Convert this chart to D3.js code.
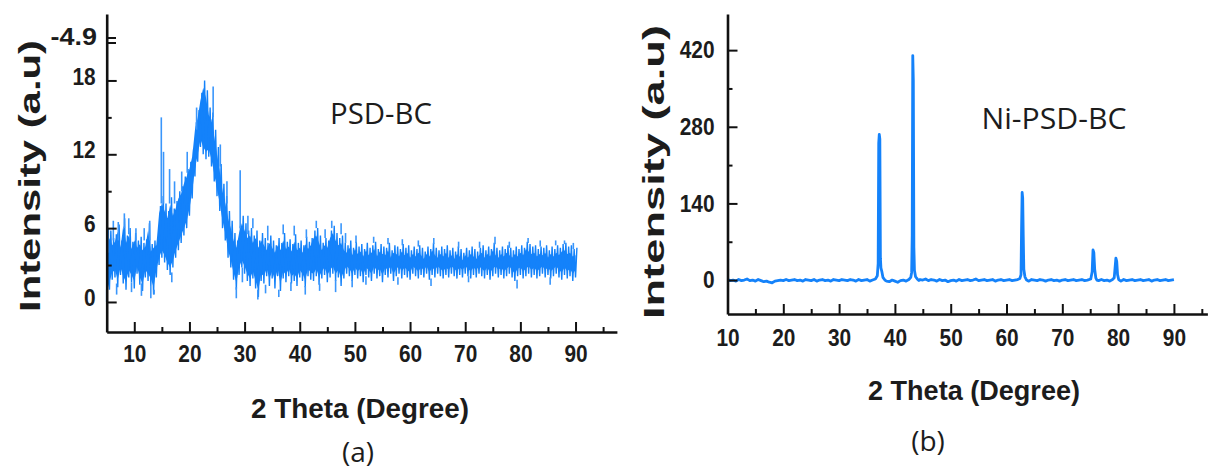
<!DOCTYPE html>
<html>
<head>
<meta charset="utf-8">
<script src="https://cdnjs.cloudflare.com/ajax/libs/d3/7.8.5/d3.min.js"></script>
<style>
body{margin:0;background:#fff;}
svg text{font-family:"Liberation Sans",Arial,sans-serif;fill:#1c1c1c;}
.lbl{font-family:"Open Sans","Noto Sans",sans-serif !important;}
</style>
</head>
<body>
<svg id="chart" width="1214" height="470"></svg>
<script>
// ---------- (a) PSD-BC : band of the noisy scan, sampled every 0.5 deg from 5 to 90 ----------
var startA = 5, stepA = 0.5;
var hiA = [
  4.5,5.8,5.2,5.5,6.3,5.0,6.8,5.4,6.0,4.9,
  5.6,5.0,5.3,4.8,5.1,6.4,4.7,5.0,5.2,7.8,
  8.6,8.0,7.4,8.5,7.6,8.2,9.0,9.4,10.2,10.8,
  11.4,12.4,14.6,15.6,17.0,18.0,17.2,15.8,15.4,14.0,
  12.6,11.2,9.6,8.6,7.4,6.6,5.6,5.0,6.2,7.0,
  6.4,5.8,6.0,5.4,5.8,5.0,5.6,5.2,4.8,5.4,
  5.0,4.6,5.2,4.8,5.6,4.9,5.1,4.7,5.5,4.8,
  5.0,4.6,5.3,4.9,5.2,5.8,6.0,5.4,4.8,5.2,
  5.0,5.8,6.2,5.6,5.2,5.4,4.8,4.6,5.0,4.4,
  4.9,4.5,4.7,4.3,4.8,4.4,4.6,4.9,4.3,4.7,
  4.5,4.4,4.8,4.2,4.6,4.5,4.3,4.7,4.4,4.6,
  4.2,4.5,4.3,4.6,4.4,4.1,4.5,4.3,4.8,4.4,
  4.2,4.5,4.3,4.6,4.2,4.4,4.1,4.5,4.3,4.0,
  4.4,4.2,4.5,4.3,4.1,4.4,4.6,4.2,4.5,4.3,
  4.8,4.4,4.2,4.5,4.3,4.6,4.4,4.2,4.5,4.3,
  4.6,4.4,4.9,4.7,4.5,4.6,4.3,4.5,4.4,4.6,
  4.2,4.5,4.3,4.6,4.4,4.7,4.8,4.5,4.6,4.3,
  4.4];
var loA = [
  0.2,1.0,1.8,2.0,1.2,2.2,1.5,1.0,2.0,1.6,
  1.1,2.3,1.4,0.9,2.0,1.7,1.3,0.6,2.0,3.0,
  3.6,3.2,2.6,2.2,2.8,3.6,4.2,4.8,5.4,6.0,
  7.0,8.4,10.2,11.4,12.6,12.0,11.6,11.8,11.0,9.8,
  8.6,7.4,6.0,5.0,3.6,2.8,1.8,1.0,2.2,2.8,
  2.3,1.7,1.3,1.9,1.1,0.4,1.7,1.5,2.1,1.3,
  1.9,1.1,2.1,0.9,1.9,1.6,2.1,1.5,1.7,1.3,
  2.0,1.7,1.2,2.1,1.8,1.7,2.1,1.4,1.9,2.2,
  1.6,2.0,2.3,1.7,2.0,1.3,1.9,2.3,2.1,1.7,
  2.2,1.9,2.1,1.6,2.2,2.0,1.7,2.3,1.9,2.1,
  1.6,2.2,2.0,2.3,1.7,2.1,2.3,1.9,2.2,2.0,
  1.8,2.3,2.1,1.9,2.2,2.0,2.3,1.8,2.2,2.0,
  2.3,2.1,1.9,2.2,2.0,2.3,2.1,1.9,2.2,2.0,
  2.3,2.1,1.9,2.2,2.0,2.3,2.1,1.9,2.2,1.8,
  2.1,2.3,2.0,2.2,1.9,2.1,2.3,2.0,1.7,2.1,
  2.2,1.9,2.1,2.3,2.0,2.2,1.9,2.1,2.3,2.0,
  2.2,1.9,2.1,2.3,2.0,1.8,2.2,1.9,2.1,1.7,
  2.0];
// single spikes [theta, from, to]
var spikesA = [
  [5.3,4,6.0],[6.2,5,6.6],[7.1,5,6.5],[8.2,6,7.2],[9.0,5.5,6.8],[10.3,5,6.0],[11.8,5,6.0],
  [12.8,5,6.6],[14.9,8,15.0],[15.3,8,12.2],[16.4,8,10.8],[17.3,8,9.8],[18.6,9,10.6],
  [19.6,10.5,12.2],[21.3,14,15.8],[24.3,15,17.5],[25.6,11,12.8],[26.8,8,9.8],[29.2,6,10.7],
  [30.6,5.5,7.0],[31.5,6,6.8],[34.2,5,6.2],[37.0,5.5,6.3],[39.0,5.4,6.2],[41.2,5.2,5.9],
  [43.0,6,6.6],[44.6,5.2,5.9],[45.8,6,6.6],[47.5,5.5,6.4],[48.3,4.8,5.6],[50.2,4.8,5.4],
  [53.4,4.8,5.3],[56.0,4.7,5.2],[58.6,4.6,5.1],[61.5,4.5,5.0],[64.3,4.7,5.2],[68.8,4.4,4.9],
  [72.6,4.4,4.9],[75.4,4.7,5.3],[78.0,4.4,4.9],[81.4,4.8,5.2],[83.6,4.5,5.0],[86.4,4.6,5.0],
  [88.0,4.7,5.0],[89.6,4.3,4.8],
  [5.0,1,0.0],[6.8,1.5,0.6],[9.5,1.6,0.8],[11.3,1.5,0.5],[13.0,1.3,0.3],[13.6,1,0.6],
  [16.8,2.4,1.6],[28.5,1.2,0.3],[29.6,2.8,1.6],[32.4,1,0.2],[33.8,1.4,0.7],[36.2,1.0,0.4],
  [38.4,1.6,0.9],[41.0,1.3,0.6],[43.6,1.5,0.9],[46.5,1.8,0.8],[49.5,1.8,1.2],[52.0,2.1,1.4],
  [57.8,2.0,1.4],[63.8,1.9,1.3],[70.6,2.1,1.6],[79.4,1.8,1.1],[85.4,2.0,1.4]];
var xTicksA = [10,20,30,40,50,60,70,80,90];
var xMinorA = [15,25,35,45,55,65,75,85,95];
var yTicksA = [0,6,12,18];
var yMinorA = [3,9,15];
var breakLabelA = "-4.9";

// ---------- (b) Ni-PSD-BC : [theta, intensity] ----------
var scanB = [
  [10,1],[10.5,-1],[11,0],[11.5,-2],[12,1],[12.5,-1],[13,0],[13.5,2],[14,-1],[14.5,0],
  [15,-2],[15.5,1],[16,-1],[16.5,-3],[17,-2],[17.5,-4],[18,-5],[18.5,-2],[19,-1],[19.5,0],
  [20,-1],[20.5,1],[21,-1],[21.5,0],[22,1],[22.5,-1],[23,0],[23.5,-2],[24,1],[24.5,0],
  [25,-1],[25.5,1],[26,-2],[26.5,0],[27,1],[27.5,-1],[28,0],[28.5,-2],[29,1],[29.5,0],
  [30,-1],[30.5,1],[31,0],[31.5,-1],[32,1],[32.5,0],[33,-2],[33.5,1],[34,-1],[34.5,0],
  [35,1],[35.5,-2],[36,0],[36.5,2],[36.85,8],[37.0,30],[37.1,250],[37.2,266],[37.3,258],
  [37.4,40],[37.5,22],[37.65,16],[37.85,5],[38.2,0],[38.5,-2],[39,-3],[39.5,0],[40,-2],
  [40.5,-4],[41,-1],[41.5,0],[42,-2],[42.5,1],[42.85,5],[43.0,14],[43.1,82],[43.2,410],
  [43.3,365],[43.4,60],[43.5,18],[43.7,6],[44.0,2],[44.3,-1],[44.5,1],[45,0],[45.5,2],
  [46,-1],[46.5,1],[47,0],[47.5,-2],[48,1],[48.5,-1],[49,0],[49.5,-3],[50,-1],[50.5,0],
  [51,-2],[51.5,1],[52,-1],[52.5,0],[53,1],[53.5,-1],[54,0],[54.5,2],[55,-1],[55.5,0],
  [56,1],[56.5,-1],[57,0],[57.5,1],[58,-2],[58.5,0],[59,1],[59.5,-1],[60,0],[60.5,1],
  [61,-1],[61.5,0],[62,1],[62.4,3],[62.6,10],[62.7,95],[62.8,160],[62.9,150],[63.0,80],
  [63.1,20],[63.3,6],[63.6,0],[64,-2],[64.5,1],[65,0],[65.5,-1],[66,1],[66.5,0],[67,-2],
  [67.5,0],[68,1],[68.5,-1],[69,0],[69.5,-2],[70,0],[70.5,1],[71,-1],[71.5,0],[72,1],
  [72.5,-1],[73,0],[73.5,1],[74,-1],[74.5,0],[75.1,2],[75.35,15],[75.5,55],[75.65,50],
  [75.8,20],[76.0,4],[76.2,0],[76.5,-1],[77,1],[77.5,-1],[78,0],[78.5,-2],[79,1],[79.3,4],
  [79.45,22],[79.6,40],[79.75,34],[79.9,10],[80.1,1],[80.5,-2],[81,1],[81.5,-1],[82,0],
  [82.5,1],[83,-1],[83.5,0],[84,1],[84.5,-1],[85,0],[85.5,1],[86,-2],[86.5,0],[87,1],
  [87.5,-1],[88,0],[88.5,1],[89,-1],[89.5,0],[90,1]];
var xTicksB = [10,20,30,40,50,60,70,80,90];
var xMinorB = [15,25,35,45,55,65,75,85,95];
var yTicksB = [0,140,280,420];
var yMinorB = [70,210,350];

var blue = "#1482fa";
var svg = d3.select("#chart");

// scales
var xA = d3.scaleLinear().domain([5,97.5]).range([106.7,616.9]);
var yA = d3.scaleLinear().domain([-2.44,23.4]).range([332,14]);
var xB = d3.scaleLinear().domain([10,96]).range([727.5,1207.4]);
var yB = d3.scaleLinear().domain([-62,486]).range([314,14]);

var digitW = 11.6; // tick labels are tall and narrow in the figure

function styleLabels(sel){
  sel.style("font-size","24px").style("font-weight","bold").attr("fill","#1c1c1c")
    .attr("textLength", function(){ return this.textContent.length*digitW; })
    .attr("lengthAdjust","spacingAndGlyphs");
}

function drawAxes(x, y, xMaj, xMin, yMaj, yMin, xPad, yPad, yShift){
  var x0 = x.range()[0], y0 = y.range()[0];
  // minor ticks
  svg.append("g").attr("transform","translate(0,"+y0+")")
    .call(d3.axisBottom(x).tickValues(xMin).tickSizeInner(-5).tickSizeOuter(0).tickFormat(""))
    .call(g=>g.select(".domain").remove());
  svg.append("g").attr("transform","translate("+x0+",0)")
    .call(d3.axisLeft(y).tickValues(yMin).tickSizeInner(-5).tickSizeOuter(0).tickFormat(""))
    .call(g=>g.select(".domain").remove());
  // major ticks + labels
  var gx = svg.append("g").attr("transform","translate(0,"+y0+")")
    .call(d3.axisBottom(x).tickValues(xMaj).tickSizeInner(-10).tickSizeOuter(0).tickPadding(xPad));
  var gy = svg.append("g").attr("transform","translate("+x0+",0)")
    .call(d3.axisLeft(y).tickValues(yMaj).tickSizeInner(-10).tickSizeOuter(0).tickPadding(yPad));
  gy.selectAll("text").attr("y", yShift);
  [gx, gy].forEach(function(g){
    styleLabels(g.selectAll("text"));
    g.selectAll(".domain").attr("stroke","#111").attr("stroke-width",2.6);
  });
  svg.selectAll(".tick line").attr("stroke","#111").attr("stroke-width",2);
}

// ----- panel (a) : dense scan drawn as a zig-zag between the low and high readings -----
var zigA = [];
hiA.forEach(function(h,i){
  var t = startA + i*stepA;
  zigA.push([t, loA[i]]);
  zigA.push([t + stepA/2, h]);
});
svg.append("path").datum(hiA.map(function(h,i){ return [startA+i*stepA, h, loA[i]]; }))
  .attr("d", d3.area().x(d=>xA(d[0])).y0(d=>yA(d[2]+0.6)).y1(d=>yA(d[1]-0.6)))
  .attr("fill", blue);
svg.append("path").datum(zigA)
  .attr("d", d3.line().x(d=>xA(d[0])).y(d=>yA(d[1])))
  .attr("fill","none").attr("stroke", blue).attr("stroke-width",1.4);
svg.append("g").selectAll("line").data(spikesA).join("line")
  .attr("x1",d=>xA(d[0])).attr("x2",d=>xA(d[0]))
  .attr("y1",d=>yA(d[1])).attr("y2",d=>yA(d[2]))
  .attr("stroke","#3a96fb").attr("stroke-width",1.6);

drawAxes(xA, yA, xTicksA, xMinorA, yTicksA, yMinorA, 13, 11, -4);

// axis break marks and the odd top label
svg.append("g").selectAll("line").data([0,5]).join("line")
  .attr("x1",108).attr("x2",116).attr("y1",d=>38+d).attr("y2",d=>38+d)
  .attr("stroke","#111").attr("stroke-width",2);
styleLabels(svg.append("text").attr("x",97).attr("y",45).attr("text-anchor","end").text(breakLabelA));

svg.append("text").attr("transform","translate(40,176) rotate(-90)")
  .attr("text-anchor","middle").attr("textLength",272).attr("lengthAdjust","spacingAndGlyphs")
  .style("font-size","29px").style("font-weight","bold").text("Intensity (a.u)");
svg.append("text").attr("x",360).attr("y",418).attr("text-anchor","middle")
  .attr("textLength",218).attr("lengthAdjust","spacingAndGlyphs")
  .style("font-size","27px").style("font-weight","bold").text("2 Theta (Degree)");
svg.append("text").attr("class","lbl").attr("x",381).attr("y",124).attr("text-anchor","middle")
  .attr("textLength",102).attr("lengthAdjust","spacingAndGlyphs")
  .style("font-size","29px").text("PSD-BC");
svg.append("text").attr("class","lbl").attr("x",358).attr("y",462).attr("text-anchor","middle")
  .style("font-size","28px").text("(a)");

// ----- panel (b) -----
svg.append("path").datum(scanB)
  .attr("d", d3.line().x(d=>xB(d[0])).y(d=>yB(d[1])))
  .attr("fill","none").attr("stroke", blue).attr("stroke-width",2.8)
  .attr("stroke-linejoin","round");

drawAxes(xB, yB, xTicksB, xMinorB, yTicksB, yMinorB, 15, 13, 0);

svg.append("text").attr("transform","translate(664,172) rotate(-90)")
  .attr("text-anchor","middle").attr("textLength",294).attr("lengthAdjust","spacingAndGlyphs")
  .style("font-size","29px").style("font-weight","bold").text("Intensity (a.u)");
svg.append("text").attr("x",974).attr("y",400).attr("text-anchor","middle")
  .attr("textLength",212).attr("lengthAdjust","spacingAndGlyphs")
  .style("font-size","27px").style("font-weight","bold").text("2 Theta (Degree)");
svg.append("text").attr("class","lbl").attr("x",1054).attr("y",129).attr("text-anchor","middle")
  .attr("textLength",145).attr("lengthAdjust","spacingAndGlyphs")
  .style("font-size","29px").text("Ni-PSD-BC");
svg.append("text").attr("class","lbl").attr("x",928).attr("y",451).attr("text-anchor","middle")
  .style("font-size","28px").text("(b)");
</script>
</body>
</html>
